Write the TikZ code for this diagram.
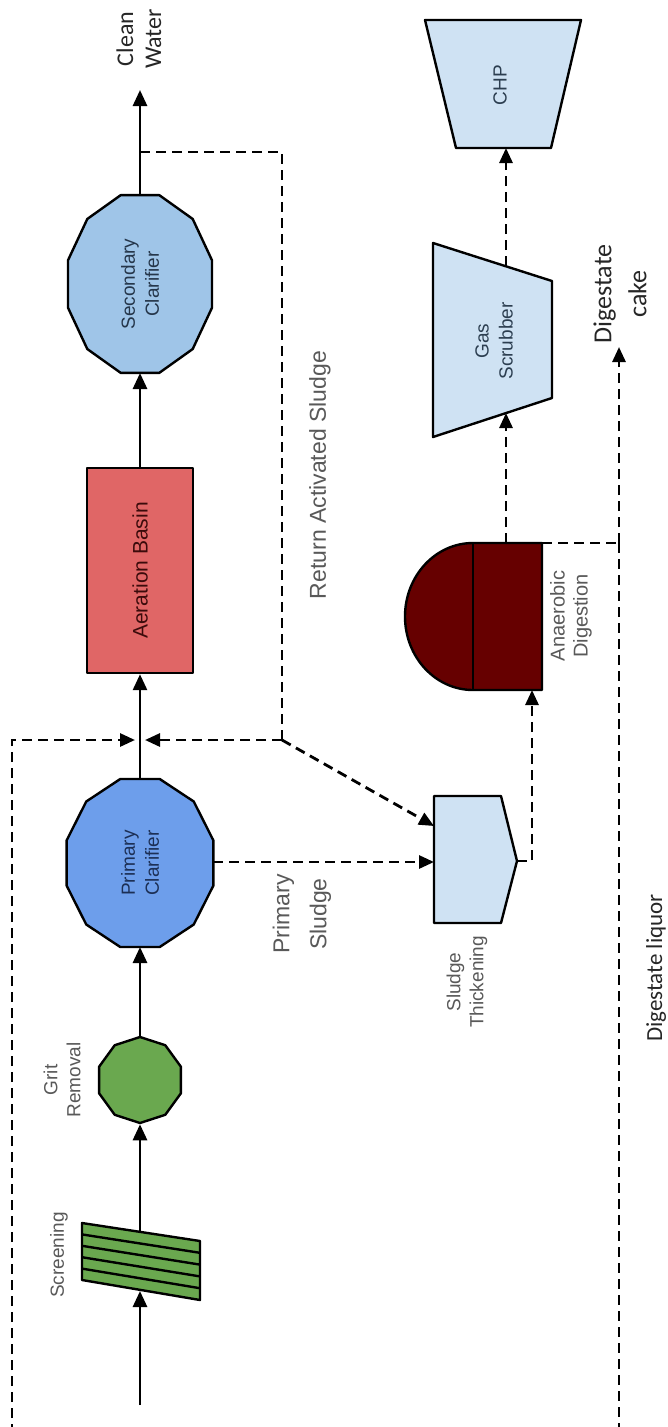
\documentclass[tikz,border=0pt]{standalone}
\usepackage{fontspec}
\setmainfont{Liberation Sans}
\newfontfamily\calfont{Carlito}
\usetikzlibrary{arrows.meta,shapes.geometric}
\definecolor{gritgreen}{HTML}{6AA84F}
\definecolor{pcblue}{HTML}{6D9EEB}
\definecolor{scblue}{HTML}{9FC5E8}
\definecolor{abred}{HTML}{E06666}
\definecolor{adred}{HTML}{660000}
\definecolor{paleblue}{HTML}{CFE2F3}
\definecolor{lblgray}{HTML}{595959}
\definecolor{pctext}{HTML}{1C2F55}
\definecolor{sctext}{HTML}{25364A}
\definecolor{abtext}{HTML}{3B0B0B}
\definecolor{slate}{HTML}{2C3E50}
\begin{document}
\begin{tikzpicture}[x=1pt,y=-1pt,
  flow/.style={line width=2.8pt,-{Triangle[length=16pt,width=14pt]}},
  dflow/.style={line width=2.8pt,dash pattern=on 10pt off 6pt,-{Triangle[length=15pt,width=13pt]}},
  dline/.style={line width=2.8pt,dash pattern=on 10pt off 6pt},
  unit/.style={draw=black,line width=2.4pt,line join=round},
  lbl/.style={rotate=90,align=center,inner sep=0pt,text=lblgray,font=\fontsize{19}{23}\selectfont},
  inlbl/.style={rotate=90,align=center,inner sep=0pt,font=\fontsize{19}{24}\selectfont},
  callbl/.style={rotate=90,align=center,inner sep=0pt,text=black!85}
]
\useasboundingbox (0,0) rectangle (667,1427);
\fill[white] (0,0) rectangle (667,1427);

% ---------- Screening ----------
\coordinate (sc1) at (82,1223);
\coordinate (sc2) at (200,1241);
\coordinate (sc3) at (200,1300);
\coordinate (sc4) at (82,1280);
\fill[gritgreen] (sc1) -- (sc2) -- (sc3) -- (sc4) -- cycle;
\foreach \k in {1,...,4}
  \draw[line width=2.4pt] (82,{1223+\k*11.4}) -- (200,{1241+\k*11.8});
\draw[unit] (sc1) -- (sc2) -- (sc3) -- (sc4) -- cycle;
\coordinate (scrIn) at (140,1291);
\coordinate (scrOut) at (140,1232);
\coordinate (src) at (140,1405);
\node[lbl] (scrl) at (59,1255) {Screening};

% ---------- Grit removal ----------
\node[unit,regular polygon,regular polygon sides=10,shape border rotate=18,
      minimum size=86pt,inner sep=0pt,fill=gritgreen] (grit) at (140,1080) {};
\node[lbl] (gritl) at (62,1080) {Grit\\Removal};

% ---------- Primary clarifier ----------
\draw[unit,fill=pcblue] plot[samples at={15,45,...,345}]
  ({140+76*cos(\x)},{863+87*sin(\x)}) -- cycle;
\node[inlbl,text=pctext] (pc) at (140,863) {Primary\\Clarifier};
\coordinate (pcB) at (140,947);
\coordinate (pcT) at (140,779);
\coordinate (pcR) at (213,862);

% ---------- Aeration basin ----------
\node[unit,fill=abred,minimum width=106pt,minimum height=205pt,inner sep=0pt] (ab) at (140,570.5) {};
\node[inlbl,text=abtext,font=\fontsize{21}{25}\selectfont] (abl) at (ab.center) {Aeration Basin};

% ---------- Secondary clarifier ----------
\draw[unit,fill=scblue] plot[samples at={15,45,...,345}]
  ({140+74.5*cos(\x)},{284+92*sin(\x)}) -- cycle;
\node[inlbl,text=sctext] (sc) at (140,284) {Secondary\\Clarifier};
\coordinate (scB) at (140,373);
\coordinate (scT) at (140,195);

% ---------- Clean water ----------
\coordinate (cw) at (140,90);
\node[callbl,font=\calfont\fontsize{24}{28}\selectfont] (cwl) at (139,39) {Clean\\Water};
\coordinate (ras0) at (140,152);

% ---------- Sludge thickening ----------
\coordinate (st1) at (434,796);
\coordinate (st2) at (501,796);
\coordinate (st3) at (517,861);
\coordinate (st4) at (501,923);
\coordinate (st5) at (434,923);
\draw[unit,fill=paleblue] (st1) -- (st2) -- (st3) -- (st4) -- (st5) -- cycle;
\coordinate (stL) at (434,862);
\coordinate (stD) at (434,826);
\node[lbl] (stl) at (467,982) {Sludge\\Thickening};

% ---------- Anaerobic digestion ----------
\draw[unit,fill=adred] (473,543) -- (542,543) -- (542,690) -- (473,690)
  arc[start angle=90,end angle=270,x radius=68,y radius=73.5] -- cycle;
\draw[line width=2.4pt] (473,543) -- (473,690);
\coordinate (adB) at (532,690);
\coordinate (adT) at (506,543);
\coordinate (adTR) at (542,543);
\node[lbl,font=\fontsize{20}{23}\selectfont] (adl) at (571,616) {Anaerobic\\Digestion};

% ---------- Gas scrubber ----------
\draw[unit,fill=paleblue] (433,243) -- (552,281) -- (552,398) -- (433,437) -- cycle;
\coordinate (gsB) at (506,413);
\coordinate (gsT) at (506,266);
\node[inlbl,text=slate] (gsl) at (494,341) {Gas\\Scrubber};

% ---------- CHP ----------
\draw[unit,fill=paleblue] (425,20) -- (581,20) -- (551,148) -- (456,148) -- cycle;
\coordinate (chpB) at (506,148);
\node[inlbl,text=slate] (chpl) at (500,85) {CHP};

% ---------- main flow ----------
\draw[flow] (src) -- (scrIn);
\draw[flow] (scrOut) -- (grit.south);
\draw[flow] (grit.north) -- (pcB);
\draw[flow] (pcT) -- (ab.south);
\draw[flow] (ab.north) -- (scB);
\draw[flow] (scT) -- (cw);

% ---------- return activated sludge ----------
\coordinate (rasC) at (282,152);
\coordinate (rasJ) at (282,740);
\coordinate (mixR) at (145,740);
\coordinate (mixL) at (135,740);
\draw[dline] (ras0) -- (rasC) -- (rasJ);
\draw[dflow] (rasJ) -- (mixR);
\draw[dflow] (rasJ) -- (stD);
\node[lbl,font=\fontsize{23}{27}\selectfont] (rasl) at (320,475) {Return Activated Sludge};

% ---------- primary sludge ----------
\draw[dflow] (pcR) -- (stL);
\node[lbl,font=\fontsize{23}{37}\selectfont] (psl) at (302,914) {Primary\\Sludge};

% ---------- sludge line ----------
\coordinate (stAD) at (532,861);
\draw[dflow] (st3) -- (stAD) -- (adB);
\draw[dflow] (adT) -- (gsB);
\draw[dflow] (gsT) -- (chpB);

% ---------- digestate ----------
\coordinate (dj) at (619,543);
\coordinate (cake) at (619,347);
\draw[dline] (adTR) -- (dj);
\draw[dflow] (dj) -- (cake);
\node[callbl,font=\calfont\fontsize{26}{35}\selectfont] (cakel) at (620,294) {Digestate\\cake};
\coordinate (lq1) at (619,1445);
\coordinate (lq2) at (12,1445);
\coordinate (lq3) at (12,740);
\draw[dflow] (dj) -- (lq1) -- (lq2) -- (lq3) -- (mixL);
\node[callbl,font=\calfont\fontsize{23}{27}\selectfont] (lql) at (656,968) {Digestate liquor};
\end{tikzpicture}
\end{document}
